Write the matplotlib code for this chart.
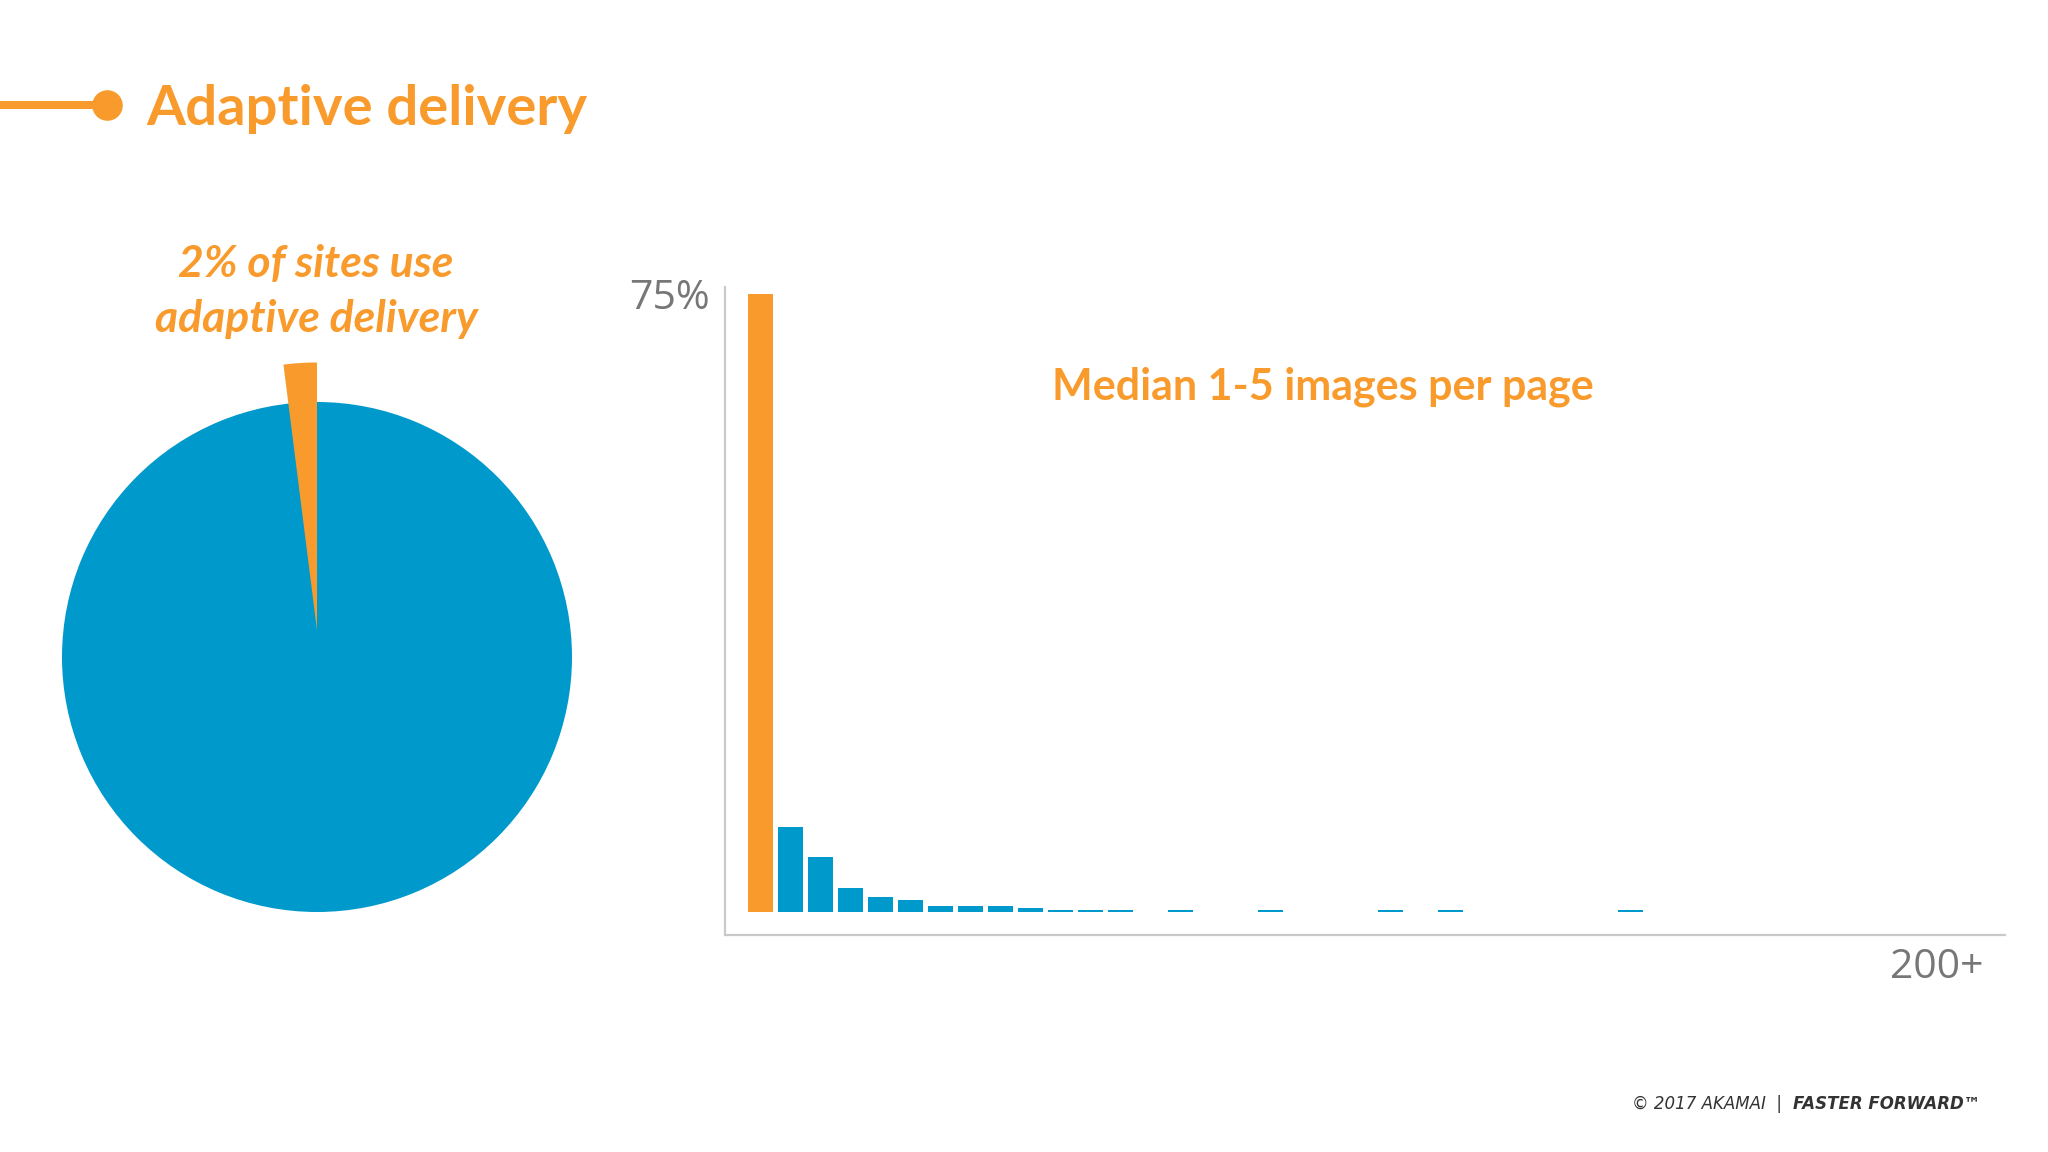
import matplotlib
matplotlib.use("Agg")
import matplotlib.pyplot as plt
from matplotlib.lines import Line2D
import matplotlib.text as mtext

# ---------------- data ----------------
pie_labels = ["Adaptive delivery", "Other"]
pie_values = [2, 98]

bin_labels = [f"{5*i+1}-{5*i+5}" for i in range(40)] + ["200+"]
bin_values = [75, 10.3, 6.7, 2.9, 1.85, 1.45, 0.77, 0.77, 0.69, 0.49,
              0.28, 0.28, 0.28, 0, 0.2, 0, 0, 0.2, 0, 0,
              0, 0.2, 0, 0.2, 0, 0, 0, 0, 0, 0.2,
              0, 0, 0, 0, 0, 0, 0, 0, 0, 0, 0]
highlight_index = 0
ytick_values = [75]
ytick_labels = ["75%"]
xtick_label_shown = "200+"

title = "Adaptive delivery"
pie_note = ["2% of sites use", "adaptive delivery"]
bar_note = "Median 1-5 images per page"

ORANGE = "#F99B2C"
BLUE = "#0099CC"
GRAY = "#777777"
SPINE = "#C9C9C9"

W, H = 2048, 1152
fig = plt.figure(figsize=(W / 100, H / 100), dpi=100)
fig.patch.set_facecolor("white")


def fx(x):
    return x / W


def fy(y):
    return 1 - y / H


# ---------------- title ----------------
fig.add_artist(Line2D([fx(0), fx(107)], [fy(105), fy(105)], transform=fig.transFigure,
                      color=ORANGE, lw=5.8, solid_capstyle="butt"))
fig.add_artist(Line2D([fx(107)], [fy(105)], transform=fig.transFigure, marker="o",
                      markersize=21, color=ORANGE, lw=0))
fig.text(fx(146), fy(109), title, ha="left", va="center", color=ORANGE,
         fontsize=40.5, fontweight="bold", family="Lato")

# ---------------- pie ----------------
cx, cy, r = 317, 657, 255
half = 300
axp = fig.add_axes([fx(cx - half), fy(cy + half), (2 * half) / W, (2 * half) / H])
wedges, _ = axp.pie(pie_values, colors=[ORANGE, BLUE], startangle=90, counterclock=True,
                    radius=1, wedgeprops=dict(linewidth=0))
# pull the small slice straight up, slightly longer, on top of the main slice
wedges[0].set_center((0, 0.105))
wedges[0].set_radius(1.05)
wedges[0].set_zorder(5)
# let the main slice run on underneath the small one so no gap shows
wedges[1].set_theta1(wedges[1].theta2 - 360)
wedges[1].set_zorder(1)
lim = half / r
axp.set_xlim(-lim, lim)
axp.set_ylim(-lim, lim)
axp.set_aspect("auto")
axp.axis("off")

fig.text(fx(316), fy(264), pie_note[0], ha="center", va="center", color=ORANGE,
         fontsize=32, fontweight="bold", fontstyle="italic", family="Lato")
fig.text(fx(316), fy(319), pie_note[1], ha="center", va="center", color=ORANGE,
         fontsize=32, fontweight="bold", fontstyle="italic", family="Lato")

# ---------------- bars ----------------
axl, axr, axt, axb = 725, 2005, 287, 935
ax = fig.add_axes([fx(axl), fy(axb), (axr - axl) / W, (axb - axt) / H])
xs = list(range(len(bin_values)))
colors = [ORANGE if i == highlight_index else BLUE for i in xs]
ax.bar(xs, bin_values, width=0.83, color=colors, edgecolor="none")
ax.set_xlim(-1.18, 41.5)
ax.set_ylim(-2.8, 75.85)
for s in ["top", "right"]:
    ax.spines[s].set_visible(False)
for s in ["left", "bottom"]:
    ax.spines[s].set_color(SPINE)
    ax.spines[s].set_linewidth(1.6)
ax.set_yticks(ytick_values)
ax.set_yticklabels(ytick_labels, fontsize=29.5, color=GRAY, family="Open Sans")
ax.tick_params(axis="y", length=0, pad=11)
ax.set_xticks([])
ax.annotate(xtick_label_shown, xy=(0.9835, 0), xycoords="axes fraction",
            xytext=(0, -33), textcoords="offset pixels", ha="right", va="center",
            fontsize=29.5, color=GRAY, family="Open Sans")
ax.set_facecolor("none")

fig.text(fx(1323), fy(387), bar_note, ha="center", va="center", color=ORANGE,
         fontsize=31, fontweight="bold", family="Lato")

# ---------------- footer ----------------
t_bold = fig.text(fx(1980), fy(1104), "FASTER FORWARD\u2122", ha="right", va="center",
                  fontsize=12, fontweight="bold", fontstyle="italic", color="#333333",
                  family="DejaVu Sans")
fig.add_artist(mtext.Annotation("\u00a9 2017 AKAMAI  |  ", xy=(0, 0.5), xycoords=t_bold,
                                ha="right", va="center", fontsize=12, fontstyle="italic",
                                color="#333333", family="DejaVu Sans"))

fig.savefig("out.png", dpi=100, facecolor="white")
